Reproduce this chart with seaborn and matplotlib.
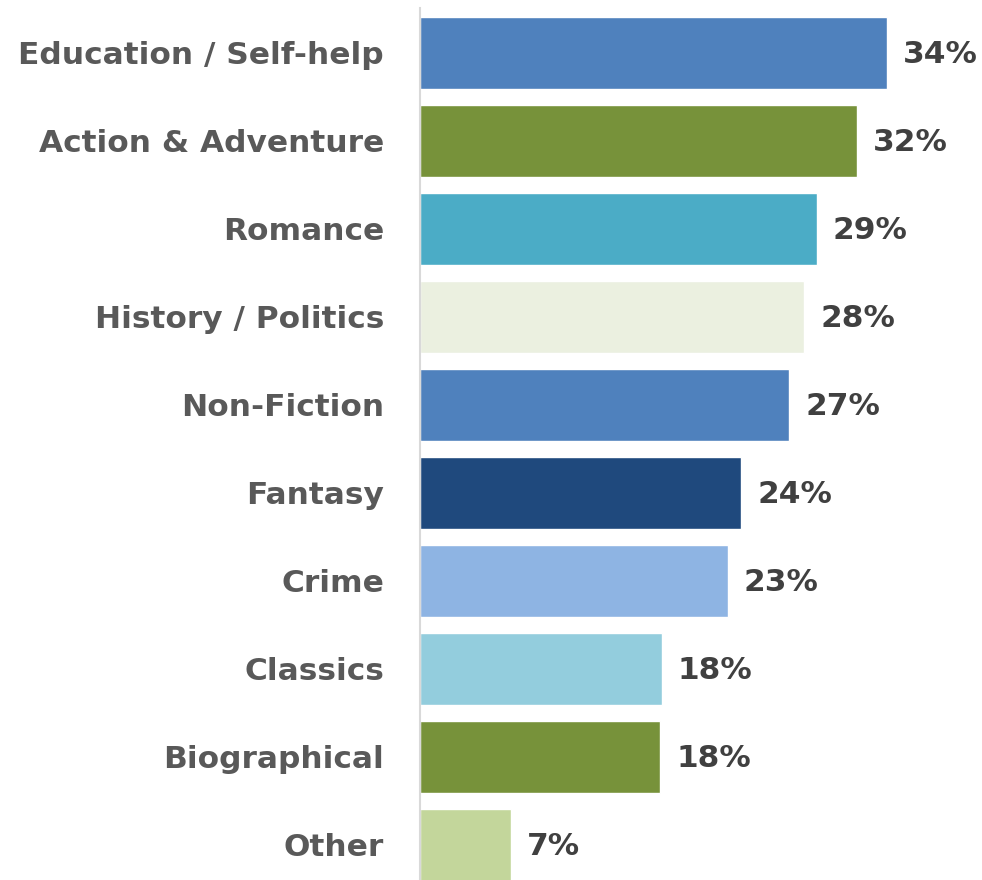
import matplotlib
matplotlib.use("Agg")
import matplotlib.pyplot as plt
import seaborn as sns
import pandas as pd

# data
genres = ["Education / Self-help", "Action & Adventure", "Romance", "History / Politics",
          "Non-Fiction", "Fantasy", "Crime", "Classics", "Biographical", "Other"]
shares = [34.0, 31.8, 28.9, 28.0, 26.9, 23.4, 22.4, 17.6, 17.5, 6.6]
labels = ["34%", "32%", "29%", "28%", "27%", "24%", "23%", "18%", "18%", "7%"]
colors = ["#4F81BD", "#77923A", "#4BACC6", "#EBF0E0", "#4F81BD",
          "#1F497D", "#8EB4E3", "#93CDDD", "#77923A", "#C3D69B"]

df = pd.DataFrame({"genre": genres, "share": shares})

sns.set_style("white")
plt.rcParams["font.family"] = ["DejaVu Sans"]

fig = plt.figure(figsize=(9.82, 8.8), dpi=100)
ax = fig.add_axes([420 / 982, 0, 562 / 982, 1])

sns.barplot(data=df, x="share", y="genre", hue="genre", palette=colors,
            width=72 / 88, legend=False, ax=ax, saturation=1)

ax.set_xlim(0, 562 / 13.73)
ax.set_ylim((880 - 53) / 88, -53 / 88)

# percentage labels at the bar ends
for i, (v, lab) in enumerate(zip(shares, labels)):
    ax.annotate(lab, (v, i), xytext=(11.5, -1), textcoords="offset points",
                va="center", ha="left", fontsize=22.5, fontweight="bold", color="#404040")

ax.set_xlabel("")
ax.set_ylabel("")
ax.set_xticks([])
ax.tick_params(axis="y", length=0, pad=26)
for t in ax.get_yticklabels():
    t.set_fontsize(22.5)
    t.set_fontweight("bold")
    t.set_color("#595959")

for s in ["top", "right", "bottom"]:
    ax.spines[s].set_visible(False)
ax.spines["left"].set_color("#D9D9D9")
ax.spines["left"].set_linewidth(1.5)
ax.spines["left"].set_bounds((8 - 53) / 88, (880 - 53) / 88)

fig.savefig("out.png", dpi=100)
